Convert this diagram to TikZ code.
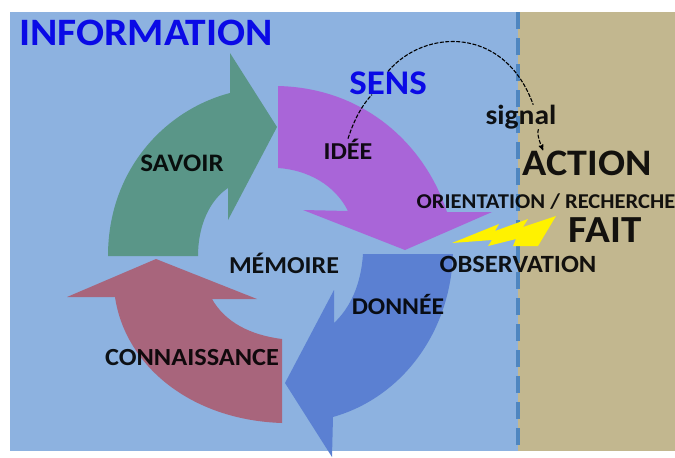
\documentclass[tikz,border=0pt]{standalone}
\usepackage{fontspec}
\setmainfont[FakeStretch=1.07]{Carlito}
\usepackage{color}
\usetikzlibrary{arrows}
\definecolor{infobg}{HTML}{8DB2E0}
\definecolor{faitbg}{HTML}{C2B78F}
\definecolor{bordercol}{HTML}{4F86C0}
\definecolor{savoircol}{HTML}{5A9688}
\definecolor{ideecol}{HTML}{A965D8}
\definecolor{donneecol}{HTML}{5B80D2}
\definecolor{connaissancecol}{HTML}{A8657C}
\definecolor{titlecol}{HTML}{0A0AE6}
\tikzset{
  word/.style={inner sep=0pt, text=black, text opacity=0.9},
  title/.style={word, text=titlecol, text opacity=1},
  sensline/.style={dash pattern=on 4pt off 1.5pt, line width=1.1pt, black},
}

\begin{document}
\begin{tikzpicture}[x=1pt,y=-1pt]
      \useasboundingbox (0,0) rectangle (675,458);
      \fill[white] (0,0) rectangle (675,458);
      % fond
      \fill[infobg] (10,12) rectangle (518,451);
      \fill[faitbg] (518,12) rectangle (675,451);
      \draw[bordercol, line width=4pt, dash pattern=on 17pt off 9pt] (518,12) -- (518,451);
      % les quatre fleches
      \fill[savoircol] (277,127) -- (230,53) -- (230,93)
        .. controls (165,110) and (108,170) .. (108,256) -- (198,256)
        .. controls (198,225) and (210,200) .. (228,188) -- (228,220) -- cycle;
      \fill[ideecol] (278,86) .. controls (365,88) and (425,145) .. (447,212)
        -- (492,212) -- (405,250) -- (303,210) -- (348,211)
        .. controls (335,185) and (308,170) .. (278,168) -- cycle;
      \fill[donneecol] (363,254) -- (453,254)
        .. controls (450,335) and (400,398) .. (333,417)
        -- (332,457) -- (285,383) -- (334,290) -- (334,323)
        .. controls (350,308) and (361,285) .. (363,254) -- cycle;
      \fill[connaissancecol] (156,259) -- (67,297) -- (115,297)
        .. controls (125,365) and (190,420) .. (282,423)
        -- (282,339) .. controls (250,335) and (225,322) .. (212,299)
        -- (257,299) -- cycle;
      % eclair
      \fill[yellow] (452,243) -- (499,224) -- (495,231) -- (528,219)
        -- (523,227) -- (556,216) -- (538,246) -- (513,246) -- (516,239)
        -- (488,246) -- (492,240) -- cycle;
      % textes
      \node[title, font=\bfseries\fontsize{38.8}{38.8}\selectfont] (information) at (146,33) {INFORMATION};
      \node[title, font=\bfseries\fontsize{34.6}{34.6}\selectfont] (sens) at (388,83) {SENS};
      \node[word, font=\bfseries\fontsize{27.6}{27.6}\selectfont] (signal) at (521,117) {signal};
      \node[word, font=\bfseries\fontsize{37.4}{37.4}\selectfont] (action) at (587,163) {ACTION};
      \node[word, font=\bfseries\fontsize{21.1}{21.1}\selectfont] (orientation) at (546,202) {ORIENTATION / RECHERCHE};
      \node[word, font=\bfseries\fontsize{38.3}{38.3}\selectfont] (fait) at (605,230) {FAIT};
      \node[word, font=\bfseries\fontsize{24.8}{24.8}\selectfont] (observation) at (518,264) {OBSERVATION};
      \node[word, font=\bfseries\fontsize{24.3}{24.3}\selectfont] (memoire) at (284,263) {MÉMOIRE};
      \node[word, font=\bfseries\fontsize{24}{24}\selectfont] (donnee) at (398,304) {DONNÉE};
      \node[word, font=\bfseries\fontsize{24.6}{24.6}\selectfont] (connaissance) at (192,358) {CONNAISSANCE};
      \node[word, font=\bfseries\fontsize{25.2}{25.2}\selectfont] (savoir) at (182,163) {SAVOIR};
      \node[word, font=\bfseries\fontsize{24.3}{24.3}\selectfont] (idee) at (348,149) {IDÉE};
      % le trait du sens
      \draw[sensline] (idee.north) .. controls (354,120) and (362,105) .. (sens.-144);
      \draw[sensline] (sens.north) .. controls (425,28) and (505,26) .. (signal.45);
      \draw[sensline, ->, >=stealth'] (signal.-35) .. controls (537,132) and (538,138) .. (action.164);
\end{tikzpicture}
\end{document}
